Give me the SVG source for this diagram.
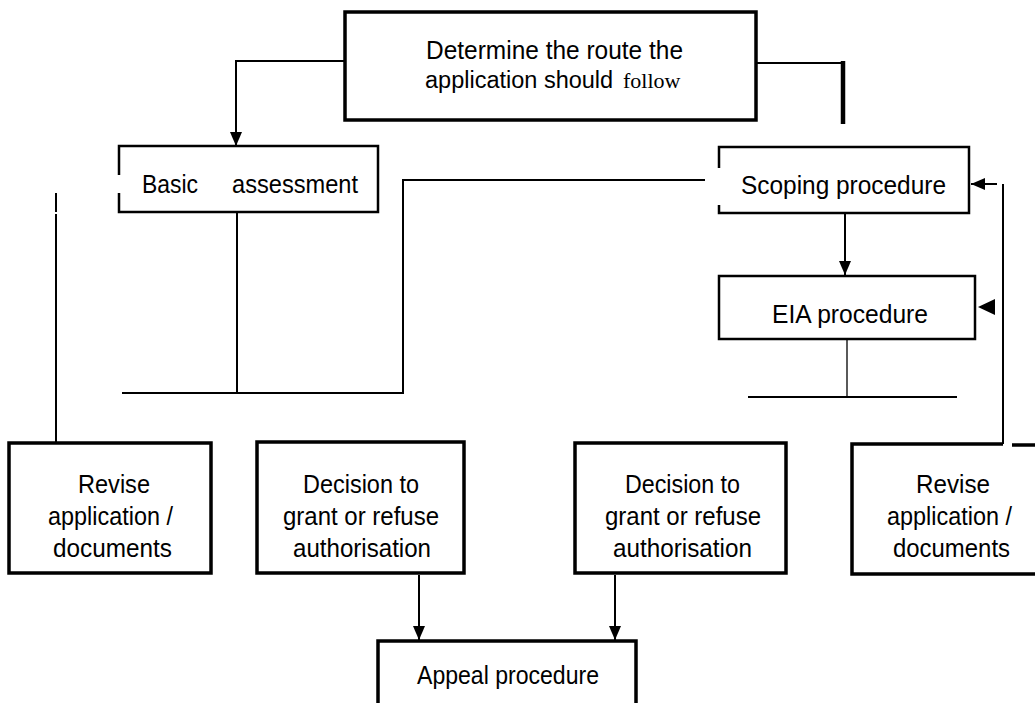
<svg xmlns="http://www.w3.org/2000/svg" width="1035" height="703" viewBox="0 0 1035 703">
<style>
.t{font-family:"Liberation Sans",Arial,sans-serif;font-size:26px;fill:#000}
.ser{font-family:"Liberation Serif","Times New Roman",serif}
.box{fill:#fff;stroke:#000;stroke-width:3.5}
.box2{fill:none;stroke:#000;stroke-width:2.5}
.ln{fill:none;stroke:#000;stroke-width:2}
.thin{fill:none;stroke:#000;stroke-width:1.3}
.thick{fill:none;stroke:#000;stroke-width:4.5}
</style>
<defs>
<marker id="ah" viewBox="0 0 14 12" refX="14" refY="6" markerWidth="14" markerHeight="13" markerUnits="userSpaceOnUse" orient="auto">
<path d="M0,0 L14,6 L0,12 Z" fill="#000"/>
</marker>
</defs>
<rect width="1035" height="703" fill="#fff"/>
<g id="connectors">
<path class="ln" d="M345,61 H236 V146" marker-end="url(#ah)"/>
<path class="ln" d="M756,63 H843"/>
<path class="thick" d="M843,61 V124"/>
<path class="ln" d="M705,180 H403 V393"/>
<path class="ln" d="M237,212 V393"/>
<path class="ln" d="M122,393 H404"/>
<path class="ln" d="M56,193 V212 M56,214 V443"/>
<path class="ln" d="M845,214 V275" marker-end="url(#ah)"/>
<path class="thin" d="M847,339 V397"/>
<path class="ln" d="M748,397 H957"/>
<path class="ln" d="M997,184 H971" marker-end="url(#ah)"/>
<path d="M978,307 L995,299 L995,315 Z" fill="#000"/>
<path class="ln" d="M1003,184 V444"/>
<path class="ln" d="M419,575 V640" marker-end="url(#ah)"/>
<path class="ln" d="M615,575 V640" marker-end="url(#ah)"/>
</g>
<g id="determine">
<rect class="box" x="345" y="12" width="411" height="108"/>
<text class="t" x="426" y="59" textLength="257" lengthAdjust="spacingAndGlyphs">Determine the route the</text>
<text class="t" x="425" y="88" style="font-size:23.5px">application should</text>
<text class="t ser" x="623" y="88" style="font-size:22px">follow</text>
</g>
<g id="basic">
<path class="box2" d="M119,175 V146 H378 V212 H119 V193"/>
<text class="t" y="193"><tspan x="142" textLength="56" lengthAdjust="spacingAndGlyphs">Basic</tspan><tspan x="232" textLength="126" lengthAdjust="spacingAndGlyphs">assessment</tspan></text>
</g>
<g id="scoping">
<path class="box2" d="M719,168 V147 H969 V213 H719 V205"/>
<text class="t" x="741" y="194" textLength="205" lengthAdjust="spacingAndGlyphs">Scoping procedure</text>
</g>
<g id="eia">
<rect class="box2" x="719" y="276" width="256" height="63"/>
<text class="t" x="772" y="323" textLength="156" lengthAdjust="spacingAndGlyphs">EIA procedure</text>
</g>
<g id="revise-left">
<rect class="box" x="9" y="443" width="202" height="130"/>
<text class="t" x="78" y="493" textLength="72" lengthAdjust="spacingAndGlyphs">Revise</text>
<text class="t" x="48" y="525" textLength="125" lengthAdjust="spacingAndGlyphs">application /</text>
<text class="t" x="53" y="557" textLength="119" lengthAdjust="spacingAndGlyphs">documents</text>
</g>
<g id="decision-left">
<rect class="box" x="257" y="442" width="207" height="131"/>
<text class="t" x="303" y="493" textLength="116" lengthAdjust="spacingAndGlyphs">Decision to</text>
<text class="t" x="283" y="525" textLength="156" lengthAdjust="spacingAndGlyphs">grant or refuse</text>
<text class="t" x="293" y="557" textLength="138" lengthAdjust="spacingAndGlyphs">authorisation</text>
</g>
<g id="decision-right">
<rect class="box" x="575" y="443" width="211" height="130"/>
<text class="t" x="625" y="493" textLength="115" lengthAdjust="spacingAndGlyphs">Decision to</text>
<text class="t" x="605" y="525" textLength="156" lengthAdjust="spacingAndGlyphs">grant or refuse</text>
<text class="t" x="613" y="557" textLength="139" lengthAdjust="spacingAndGlyphs">authorisation</text>
</g>
<g id="revise-right">
<path class="box" fill="none" d="M1003,444 H852 V574 H1040"/>
<path class="box" fill="none" d="M1012,445 H1040"/>
<text class="t" x="916" y="493" textLength="74" lengthAdjust="spacingAndGlyphs">Revise</text>
<text class="t" x="887" y="525" textLength="125" lengthAdjust="spacingAndGlyphs">application /</text>
<text class="t" x="893" y="557" textLength="117" lengthAdjust="spacingAndGlyphs">documents</text>
</g>
<g id="appeal">
<path class="box" fill="none" d="M378,710 V641 H636 V710"/>
<text class="t" x="417" y="684" textLength="182" lengthAdjust="spacingAndGlyphs">Appeal procedure</text>
</g>
</svg>
